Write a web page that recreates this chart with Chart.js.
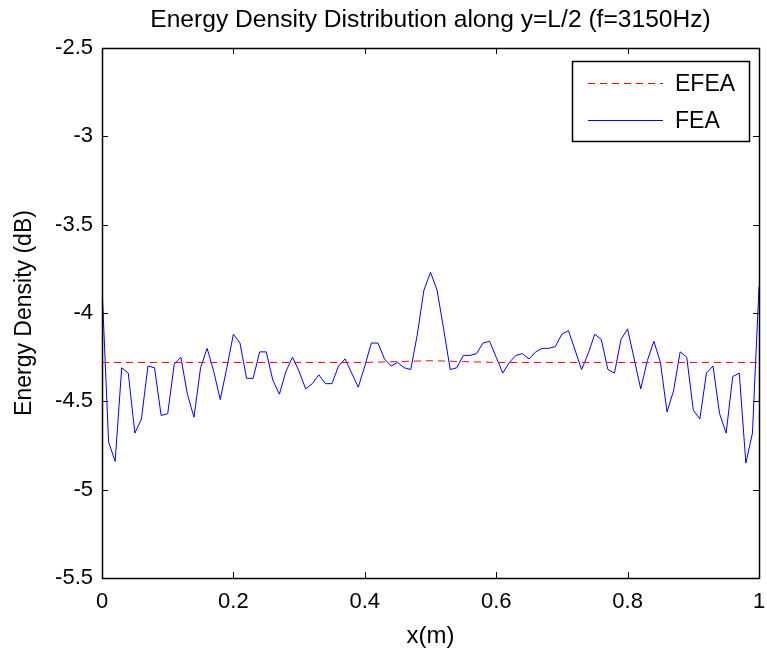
<!DOCTYPE html>
<html>
<head>
<meta charset="utf-8">
<script src="https://cdn.jsdelivr.net/npm/chart.js@4"></script>
<style>
  html, body { margin: 0; padding: 0; background: #fff; overflow: hidden; }
  #wrap { width: 767px; height: 651px; }
  canvas { display: block; }
</style>
</head>
<body>
<div id="wrap"><canvas id="energyChart"></canvas></div>
<script>
// position along y=L/2, step 0.01 m
const xPos = [];
for (let i = 0; i <= 100; i++) xPos.push(i / 100);

// FEA energy density (dB)
const feaValues = [
  -3.85, -4.73, -4.84, -4.31, -4.34, -4.68, -4.60, -4.30, -4.31, -4.58,
  -4.57, -4.29, -4.25, -4.46, -4.59, -4.31, -4.20, -4.33, -4.49, -4.31,
  -4.12, -4.17, -4.37, -4.37, -4.22, -4.22, -4.38, -4.46, -4.33, -4.25,
  -4.33, -4.43, -4.40, -4.35, -4.40, -4.40, -4.30, -4.26, -4.34, -4.42,
  -4.30, -4.17, -4.17, -4.26, -4.30, -4.28, -4.31, -4.32, -4.12, -3.87,
  -3.77, -3.87, -4.09, -4.32, -4.31, -4.24, -4.24, -4.23, -4.17, -4.16,
  -4.25, -4.34, -4.28, -4.24, -4.23, -4.26, -4.22, -4.20, -4.20, -4.19,
  -4.12, -4.10, -4.21, -4.32, -4.23, -4.12, -4.15, -4.32, -4.34, -4.15,
  -4.09, -4.26, -4.43, -4.27, -4.16, -4.28, -4.56, -4.44, -4.22, -4.25,
  -4.55, -4.60, -4.34, -4.30, -4.57, -4.68, -4.36, -4.34, -4.85, -4.68,
  -3.85
];

// EFEA energy density (dB), nearly flat
const efeaX = [0, 0.40, 0.45, 0.50, 0.55, 0.60, 1];
const efeaValues = [-4.28, -4.28, -4.275, -4.27, -4.275, -4.28, -4.28];

const xTicks = [0, 0.2, 0.4, 0.6, 0.8, 1];
const yTicks = [-2.5, -3, -3.5, -4, -4.5, -5, -5.5];

const titleText = 'Energy Density Distribution along y=L/2 (f=3150Hz)';

const FONT = '"Liberation Sans", Arial, Helvetica, sans-serif';
const RED = '#ff0000';
const BLUE = '#0000ff';

// matlab look: box, inward ticks, title over the axes, legend in the corner
const matlabFrame = {
  id: 'matlabFrame',
  afterDatasetsDraw(chart) {
    const ctx = chart.ctx;
    const a = chart.chartArea;
    const xs = chart.scales.x, ys = chart.scales.y;
    const L = 6;
    ctx.save();
    ctx.strokeStyle = '#000';
    ctx.lineWidth = 1;
    ctx.beginPath();
    xTicks.forEach(function (t) {
      const px = Math.round(xs.getPixelForValue(t)) + 0.5;
      ctx.moveTo(px, a.bottom); ctx.lineTo(px, a.bottom - L);
      ctx.moveTo(px, a.top); ctx.lineTo(px, a.top + L);
    });
    yTicks.forEach(function (t) {
      const py = Math.round(ys.getPixelForValue(t)) + 0.5;
      ctx.moveTo(a.left, py); ctx.lineTo(a.left + L, py);
      ctx.moveTo(a.right, py); ctx.lineTo(a.right - L, py);
    });
    ctx.stroke();
    ctx.lineWidth = 1.5;
    ctx.strokeRect(Math.round(a.left) + 0.5, Math.round(a.top) + 0.5,
                   Math.round(a.right - a.left), Math.round(a.bottom - a.top));

    // title, centred over the axes
    ctx.fillStyle = '#000';
    ctx.font = '24.6px ' + FONT;
    ctx.textAlign = 'center';
    ctx.textBaseline = 'middle';
    ctx.fillText(titleText, (a.left + a.right) / 2, 20);

    // legend box
    const bx = 572, by = 61, bw = 177, bh = 80;
    ctx.fillStyle = '#fff';
    ctx.fillRect(bx, by, bw, bh);
    ctx.lineWidth = 1.5;
    ctx.strokeStyle = '#000';
    ctx.strokeRect(bx + 0.5, by + 0.5, bw, bh);
    ctx.font = '23px ' + FONT;
    ctx.textBaseline = 'middle';
    ctx.textAlign = 'left';
    chart.data.datasets.forEach(function (ds, i) {
      const ly = by + 22 + i * 37 + 0.5;
      ctx.strokeStyle = i === 0 ? RED : BLUE;
      ctx.lineWidth = 1;
      ctx.setLineDash(i === 0 ? [7, 5] : []);
      ctx.beginPath();
      ctx.moveTo(bx + 16, ly);
      ctx.lineTo(bx + 91, ly);
      ctx.stroke();
      ctx.setLineDash([]);
      ctx.fillStyle = '#000';
      ctx.fillText(ds.label, bx + 103, ly + 1);
    });
    ctx.restore();
  }
};

new Chart(document.getElementById('energyChart'), {
  type: 'line',
  data: {
    datasets: [
      {
        label: 'EFEA',
        data: efeaX.map((x, i) => ({ x: x, y: efeaValues[i] })),
        borderColor: RED,
        borderWidth: 1,
        borderDash: [7, 5],
        pointRadius: 0,
        tension: 0
      },
      {
        label: 'FEA',
        data: xPos.map((x, i) => ({ x: x, y: feaValues[i] })),
        borderColor: BLUE,
        borderWidth: 1,
        pointRadius: 0,
        tension: 0
      }
    ]
  },
  options: {
    responsive: true,
    maintainAspectRatio: false,
    animation: false,
    layout: { padding: { left: 0, right: 8, top: 48, bottom: 0 } },
    plugins: {
      legend: { display: false },
      tooltip: { enabled: false },
      title: { display: false }
    },
    scales: {
      x: {
        type: 'linear',
        min: 0,
        max: 1,
        afterBuildTicks(s) { s.ticks = xTicks.map(v => ({ value: v })); },
        afterFit(s) { s.height = 73; s.paddingLeft = 0; s.paddingRight = 0; },
        grid: { display: false, drawTicks: false },
        border: { display: false },
        ticks: {
          color: '#000', padding: 11, font: { family: FONT, size: 22 },
          callback: v => String(v)
        },
        title: {
          display: true, text: 'x(m)', color: '#000',
          font: { family: FONT, size: 24 }, padding: { top: 0, bottom: 0 }
        }
      },
      y: {
        type: 'linear',
        min: -5.5,
        max: -2.5,
        afterBuildTicks(s) { s.ticks = yTicks.map(v => ({ value: v })); },
        afterFit(s) { s.width = 102; s.paddingTop = 0; s.paddingBottom = 0; },
        grid: { display: false, drawTicks: false },
        border: { display: false },
        ticks: {
          color: '#000', padding: 9, font: { family: FONT, size: 22 },
          callback: v => String(v)
        },
        title: {
          display: true, text: 'Energy Density (dB)', color: '#000',
          font: { family: FONT, size: 23 }, padding: { top: 11, bottom: 0 }
        }
      }
    }
  },
  plugins: [matlabFrame]
});
</script>
</body>
</html>
